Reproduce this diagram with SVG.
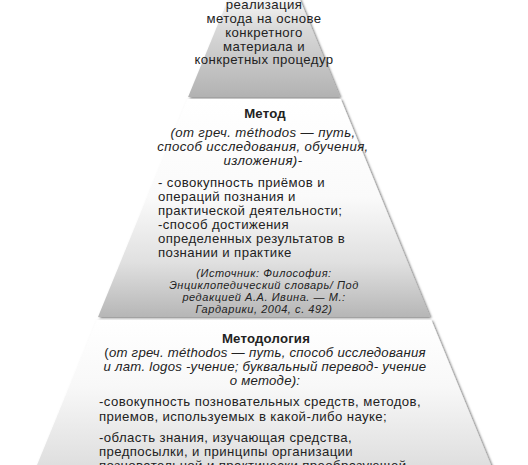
<svg xmlns="http://www.w3.org/2000/svg" width="528" height="465" viewBox="0 0 528 465">
<defs>
<linearGradient id="gTop" gradientUnits="userSpaceOnUse" x1="0" y1="-10" x2="0" y2="97">
<stop offset="0" stop-color="#ffffff"/>
<stop offset="0.35" stop-color="#dadada"/>
<stop offset="1" stop-color="#b2b2b2"/>
</linearGradient>
<linearGradient id="gMid" gradientUnits="userSpaceOnUse" x1="0" y1="99" x2="0" y2="317">
<stop offset="0" stop-color="#ffffff"/>
<stop offset="0.45" stop-color="#fafafa"/>
<stop offset="0.75" stop-color="#e0e0e0"/>
<stop offset="1" stop-color="#b6b6b6"/>
</linearGradient>
<linearGradient id="gBot" gradientUnits="userSpaceOnUse" x1="0" y1="320" x2="0" y2="540">
<stop offset="0" stop-color="#ffffff"/>
<stop offset="0.3" stop-color="#f8f8f8"/>
<stop offset="0.7" stop-color="#dcdcdc"/>
<stop offset="1" stop-color="#b8b8b8"/>
</linearGradient>
<filter id="sh" x="-10%" y="-10%" width="120%" height="120%">
<feDropShadow dx="1.5" dy="1" stdDeviation="1.2" flood-color="#000" flood-opacity="0.55"/>
</filter>
</defs>
<style>
text{font-family:"Liberation Sans",Arial,sans-serif;fill:#222;font-size:13.2px;letter-spacing:0.4px}
.c{text-anchor:middle}
.b{font-weight:bold;letter-spacing:0.2px}
.i{font-style:italic}
.n{letter-spacing:0.25px}
.s{font-size:11px;font-style:italic;letter-spacing:0.55px}
</style>
<g id="band-top">
<polygon points="264,-88 339.9,97 188.1,97" fill="url(#gTop)" filter="url(#sh)"/>
<text class="c" x="264" y="9">реализация</text>
<text class="c" x="264" y="23">метода на основе</text>
<text class="c" x="264" y="37">конкретного</text>
<text class="c" x="264" y="50.5">материала и</text>
<text class="c" x="264" y="64">конкретных процедур</text>
</g>
<g id="band-method">
<polygon points="187.3,99 340.7,99 430,317 98,317" fill="url(#gMid)" filter="url(#sh)"/>
<text class="c b" x="265" y="118">Метод</text>
<text class="c i" x="263" y="137">(от греч. méthodos — путь,</text>
<text class="c i" x="263" y="151">способ исследования, обучения,</text>
<text class="c i" x="263" y="165">изложения)-</text>
<text x="158" y="187">- совокупность приёмов и</text>
<text x="158" y="201">операций познания и</text>
<text x="158" y="215">практической деятельности;</text>
<text x="158" y="229">-способ достижения</text>
<text x="158" y="243">определенных результатов в</text>
<text x="158" y="257">познании и практике</text>
<text class="c s" x="264" y="277">(Источник: Философия:</text>
<text class="c s" x="264" y="289">Энциклопедический словарь/ Под</text>
<text class="c s" x="264" y="301">редакцией А.А. Ивина. — М.:</text>
<text class="c s" x="264" y="313">Гардарики, 2004, с. 492)</text>
</g>
<g id="band-methodology">
<polygon points="96.7,320 431.3,320 500,487 28,487" fill="url(#gBot)" filter="url(#sh)"/>
<text class="c b" x="266" y="343">Методология</text>
<text class="c n" x="265" y="357">(<tspan class="i">от греч. méthodos — путь, способ исследования</tspan></text>
<text class="c i n" x="265" y="371">и лат. logos -учение; буквальный перевод- учение</text>
<text class="c i n" x="265" y="385">о методе):</text>
<text x="99" y="406">-совокупность позновательных средств, методов,</text>
<text x="99" y="421">приемов, используемых  в какой-либо науке;</text>
<text x="99" y="442">-область знания, изучающая средства,</text>
<text x="99" y="456">предпосылки, и принципы организации</text>
<text x="99" y="470">позновательной и практически преобразующей</text>
</g>
</svg>
